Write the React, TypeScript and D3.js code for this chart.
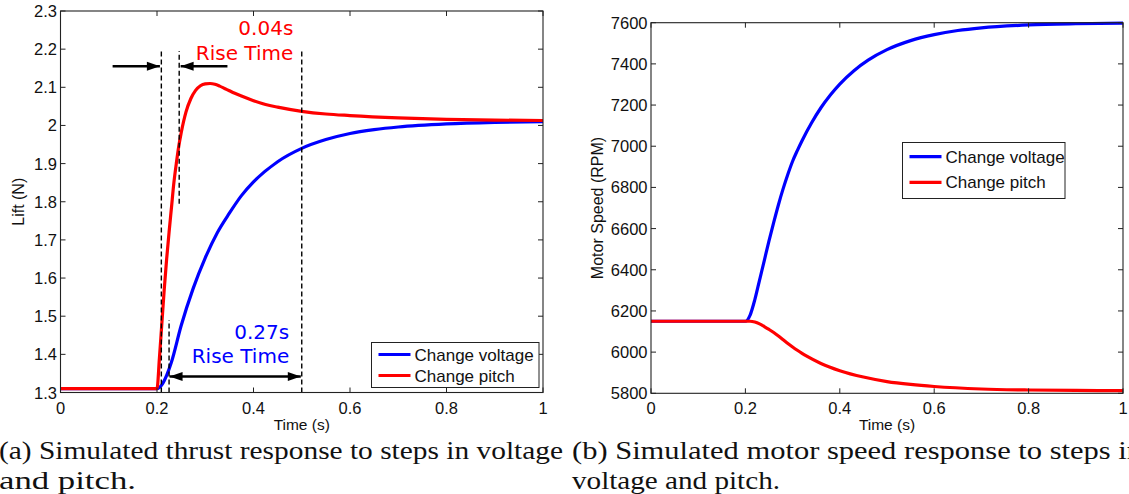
import React from 'react';
import * as d3 from 'd3';

// ---------- data ----------
const liftTimeVoltage = [0, 0.2, 0.21, 0.22, 0.23, 0.25, 0.275, 0.3, 0.325, 0.35, 0.375, 0.4, 0.45, 0.5, 0.55, 0.6, 0.65, 0.7, 0.8, 0.9, 1.0];
const liftVoltage = [1.31, 1.31, 1.32, 1.345, 1.38, 1.475, 1.573, 1.653, 1.719, 1.77, 1.816, 1.852, 1.905, 1.94, 1.963, 1.979, 1.989, 1.996, 2.004, 2.008, 2.01];
const liftTimePitch = [0, 0.2, 0.205, 0.21, 0.215, 0.22, 0.225, 0.23, 0.235, 0.24, 0.245, 0.25, 0.26, 0.27, 0.28, 0.29, 0.3, 0.31, 0.32, 0.33, 0.34, 0.35, 0.36, 0.375, 0.4, 0.425, 0.45, 0.5, 0.55, 0.6, 0.7, 0.8, 0.9, 1.0];
const liftPitch = [1.31, 1.31, 1.39, 1.48, 1.57, 1.65, 1.72, 1.785, 1.85, 1.9, 1.945, 1.98, 2.035, 2.07, 2.092, 2.104, 2.109, 2.11, 2.108, 2.103, 2.097, 2.091, 2.085, 2.077, 2.065, 2.055, 2.048, 2.037, 2.03, 2.026, 2.02, 2.016, 2.014, 2.013];

const speedTimeVoltage = [0, 0.2, 0.21, 0.22, 0.23, 0.24, 0.25, 0.26, 0.27, 0.28, 0.29, 0.3, 0.31, 0.32, 0.34, 0.36, 0.38, 0.4, 0.43, 0.46, 0.5, 0.55, 0.6, 0.65, 0.7, 0.8, 0.9, 1.0];
const speedVoltage = [6150, 6150, 6180, 6255, 6350, 6445, 6540, 6630, 6716, 6794, 6864, 6927, 6979, 7027, 7113, 7187, 7249, 7302, 7367, 7418, 7469, 7513, 7542, 7562, 7575, 7589, 7595, 7598];
const speedTimePitch = [0, 0.2, 0.21, 0.22, 0.23, 0.24, 0.25, 0.26, 0.27, 0.28, 0.29, 0.3, 0.31, 0.32, 0.33, 0.36, 0.4, 0.45, 0.5, 0.55, 0.6, 0.7, 0.8, 0.9, 1.0];
const speedPitch = [6150, 6150, 6150, 6146, 6137, 6124, 6110, 6095, 6078, 6060, 6042, 6025, 6009, 5994, 5980, 5945, 5910, 5879, 5857, 5843, 5833, 5821, 5816, 5814, 5813];

const xTicks = [0, 0.2, 0.4, 0.6, 0.8, 1];
const liftTicks = [1.3, 1.4, 1.5, 1.6, 1.7, 1.8, 1.9, 2.0, 2.1, 2.2, 2.3];
const speedTicks = [5800, 6000, 6200, 6400, 6600, 6800, 7000, 7200, 7400, 7600];

const seriesNames = ['Change voltage', 'Change pitch'];
const xLabel = 'Time (s)';
const liftLabel = 'Lift (N)';
const speedLabel = 'Motor Speed (RPM)';

// annotations (data coordinates)
const dashedT = [0.209, 0.246, 0.5, 0.225];
const dashedFrom = [1.3, 1.795, 1.3, 1.3];
const dashedTo = [2.2, 2.195, 2.2, 1.49];
const pitchRiseText = ['0.04s', 'Rise Time'];
const pitchRiseTextY = [2.237, 2.1716];
const pitchRiseTextT = 0.4825;
const voltRiseText = ['0.27s', 'Rise Time'];
const voltRiseTextY = [1.4395, 1.3766];
const voltRiseTextT = 0.474;
// arrows: [tailT, tipT, value]
const singleArrows = [[0.108, 0.206, 2.155], [0.346, 0.249, 2.155]];
const doubleArrow = [0.226, 0.498, 1.342];

const captionA = ['(a) Simulated thrust response to steps in voltage', 'and pitch.'];
const captionB = ['(b) Simulated motor speed response to steps in', 'voltage and pitch.'];

const BLUE = '#0000ff';
const RED = '#ff0000';
const SANS = '"Liberation Sans", Arial, Helvetica, sans-serif';

type PanelProps = {
  x0: number; x1: number; yTop: number; yBot: number;
  yDomain: [number, number]; yTicks: number[]; yFmt: (v: number) => string;
  yLabel: string; yLabelX: number;
  series: { t: number[]; v: number[]; color: string }[];
  legend: { x: number; y: number; w: number; h: number; first: number; step: number };
  children?: (x: d3.ScaleLinear<number, number>, y: d3.ScaleLinear<number, number>) => React.ReactNode;
};

function Panel(p: PanelProps) {
  const x = d3.scaleLinear().domain([0, 1]).range([p.x0, p.x1]);
  const y = d3.scaleLinear().domain(p.yDomain).range([p.yBot, p.yTop]);
  const tl = 5;
  const fmtX = (v: number) => String(+v.toFixed(1));
  return (
    <g>
      {p.series.map((s, i) => {
        const pts = s.t.map((t, k) => [t, s.v[k]] as [number, number]);
        const line = d3.line<[number, number]>().x(d => x(d[0])).y(d => y(d[1])).curve(d3.curveMonotoneX);
        return <path key={i} d={line(pts) || ''} fill="none" stroke={s.color} strokeWidth={3.2} strokeLinejoin="round" />;
      })}
      {p.children && p.children(x, y)}
      <rect x={p.x0} y={p.yTop} width={p.x1 - p.x0} height={p.yBot - p.yTop} fill="none" stroke="#222" strokeWidth={1.1} />
      {xTicks.map((t, i) => (
        <g key={'xt' + i}>
          <line x1={x(t)} x2={x(t)} y1={p.yBot} y2={p.yBot - tl} stroke="#222" strokeWidth={1} />
          <line x1={x(t)} x2={x(t)} y1={p.yTop} y2={p.yTop + tl} stroke="#222" strokeWidth={1} />
          <text x={x(t)} y={p.yBot + 21} textAnchor="middle" fontFamily={SANS} fontSize={16.5} fill="#111">{fmtX(t)}</text>
        </g>
      ))}
      {p.yTicks.map((v, i) => (
        <g key={'yt' + i}>
          <line x1={p.x0} x2={p.x0 + tl} y1={y(v)} y2={y(v)} stroke="#222" strokeWidth={1} />
          <line x1={p.x1} x2={p.x1 - tl} y1={y(v)} y2={y(v)} stroke="#222" strokeWidth={1} />
          <text x={p.x0 - 3.5} y={y(v) + 6} textAnchor="end" fontFamily={SANS} fontSize={16.5} fill="#111">{p.yFmt(v)}</text>
        </g>
      ))}
      <text x={(p.x0 + p.x1) / 2} y={p.yBot + 37} textAnchor="middle" fontFamily={SANS} fontSize={15.5} fill="#111">{xLabel}</text>
      <text transform={`translate(${p.yLabelX},${(p.yTop + p.yBot) / 2}) rotate(-90)`} textAnchor="middle" fontFamily={SANS} fontSize={16} fill="#111">{p.yLabel}</text>
      <rect x={p.legend.x} y={p.legend.y} width={p.legend.w} height={p.legend.h} fill="#fff" stroke="#222" strokeWidth={1} />
      {seriesNames.map((n, i) => {
        const ly = p.legend.y + p.legend.first + i * p.legend.step;
        return (
          <g key={'lg' + i}>
            <line x1={p.legend.x + 7} x2={p.legend.x + 39} y1={ly} y2={ly} stroke={p.series[i].color} strokeWidth={3.2} />
            <text x={p.legend.x + 43} y={ly + 6} fontFamily={SANS} fontSize={17} fill="#111">{n}</text>
          </g>
        );
      })}
    </g>
  );
}

function Arrow({ x1, x2, y, double }: { x1: number; x2: number; y: number; double?: boolean }) {
  const hl = 13, hw = 4.5;
  const dir = Math.sign(x2 - x1);
  const head = (tip: number, d: number) => `M${tip},${y} L${tip - d * hl},${y - hw} L${tip - d * hl},${y + hw} Z`;
  return (
    <g>
      <line x1={x1} x2={x2} y1={y} y2={y} stroke="#000" strokeWidth={2.4} />
      <path d={head(x2, dir)} fill="#000" />
      {double && <path d={head(x1, -dir)} fill="#000" />}
    </g>
  );
}

function Caption({ lines, x, widths }: { lines: string[]; x: number; widths: number[] }) {
  return (
    <g>
      {lines.map((l, i) => (
        <text key={i} x={x} y={459 + i * 29.5} fontFamily='"Liberation Serif", "Times New Roman", serif' fontSize={26} fill="#111"
          textLength={widths[i]} lengthAdjust="spacingAndGlyphs">{l}</text>
      ))}
    </g>
  );
}

export default function App() {
  return (
    <svg width={1129} height={494} style={{ position: 'absolute', left: 0, top: 0, background: '#fff' }}>
      <rect x={0} y={0} width={1129} height={494} fill="#fff" />
      <Panel
        x0={60.5} x1={543} yTop={11} yBot={392.5}
        yDomain={[1.3, 2.3]} yTicks={liftTicks} yFmt={v => String(+v.toFixed(1))}
        yLabel={liftLabel} yLabelX={24}
        series={[{ t: liftTimeVoltage, v: liftVoltage, color: BLUE }, { t: liftTimePitch, v: liftPitch, color: RED }]}
        legend={{ x: 371.5, y: 342.5, w: 167.5, h: 45, first: 12, step: 21 }}
      >
        {(x, y) => (
          <g>
            {dashedT.map((t, i) => (
              <line key={'d' + i} x1={x(t)} x2={x(t)} y1={y(dashedFrom[i])} y2={y(dashedTo[i])} stroke="#000" strokeWidth={1.4} strokeDasharray="5,3" />
            ))}
            {singleArrows.map((a, i) => <Arrow key={'a' + i} x1={x(a[0])} x2={x(a[1])} y={y(a[2])} />)}
            <Arrow x1={x(doubleArrow[0])} x2={x(doubleArrow[1])} y={y(doubleArrow[2])} double />
            {pitchRiseText.map((s, i) => (
              <text key={'pt' + i} x={x(pitchRiseTextT)} y={y(pitchRiseTextY[i])} textAnchor="end" fontFamily='"DejaVu Sans", sans-serif' fontSize={20} fill={RED}>{s}</text>
            ))}
            {voltRiseText.map((s, i) => (
              <text key={'vt' + i} x={x(voltRiseTextT)} y={y(voltRiseTextY[i])} textAnchor="end" fontFamily='"DejaVu Sans", sans-serif' fontSize={20} fill={BLUE}>{s}</text>
            ))}
          </g>
        )}
      </Panel>
      <Panel
        x0={651} x1={1123} yTop={22.7} yBot={393.3}
        yDomain={[5800, 7600]} yTicks={speedTicks} yFmt={v => String(v)}
        yLabel={speedLabel} yLabelX={603}
        series={[{ t: speedTimeVoltage, v: speedVoltage, color: BLUE }, { t: speedTimePitch, v: speedPitch, color: RED }]}
        legend={{ x: 902.5, y: 142.5, w: 162.5, h: 56, first: 14.2, step: 25.6 }}
      />
      <Caption lines={captionA} x={-1} widths={[564, 137]} />
      <Caption lines={captionB} x={572} widths={[570, 208]} />
    </svg>
  );
}
